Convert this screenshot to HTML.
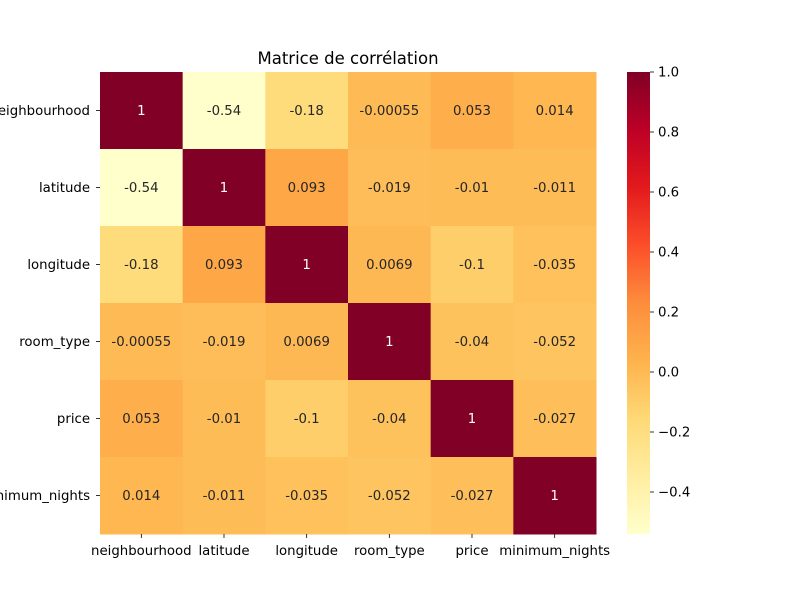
<!DOCTYPE html>
<html><head><meta charset="utf-8"><style>
body{margin:0;background:#fff;}
svg{font-family:"DejaVu Sans","Liberation Sans",sans-serif;}
</style></head><body>
<svg id="chart" width="800" height="600">
<text x="348" y="64" text-anchor="middle" font-size="16.5" fill="#000">Matrice de corrélation</text>
</svg>
<script>
const labels = ["neighbourhood","latitude","longitude","room_type","price","minimum_nights"];
const row0 = [1,-0.54,-0.18,-0.00055,0.053,0.014];
const row1 = [-0.54,1,0.093,-0.019,-0.01,-0.011];
const row2 = [-0.18,0.093,1,0.0069,-0.1,-0.035];
const row3 = [-0.00055,-0.019,0.0069,1,-0.04,-0.052];
const row4 = [0.053,-0.01,-0.1,-0.04,1,-0.027];
const row5 = [0.014,-0.011,-0.035,-0.052,-0.027,1];
const matrix = [row0,row1,row2,row3,row4,row5];
const cbTicks = [1.0,0.8,0.6,0.4,0.2,0.0,-0.2,-0.4];
const vmin = -0.54, vmax = 1.0;

const ns = "http://www.w3.org/2000/svg";
const svg = document.getElementById('chart');
const X0=100, Y0=72, W=496, H=462;
const n = labels.length, cw = W/n, ch = H/n;
const stops = ["#ffffcc","#ffeda0","#fed976","#feb24c","#fd8d3c","#fc4e2a","#e31a1c","#bd0026","#800026"];
function hex(h){return [1,3,5].map(i=>parseInt(h.substr(i,2),16));}
function color(v){
  let t=(v-vmin)/(vmax-vmin); t=Math.max(0,Math.min(1,t));
  const p=t*(stops.length-1), i=Math.min(Math.floor(p),stops.length-2), f=p-i;
  const a=hex(stops[i]), b=hex(stops[i+1]);
  return "rgb("+a.map((c,k)=>Math.round(c+(b[k]-c)*f)).join(",")+")";
}
function fmt(v){
  if(v===1) return "1";
  return String(+v.toPrecision(2));
}
function mk(tag,attrs){const e=document.createElementNS(ns,tag);for(const k in attrs)e.setAttribute(k,attrs[k]);svg.appendChild(e);return e;}
const xs = i => X0 + i*cw;
const ys = j => Y0 + j*ch;
matrix.forEach((row,j)=>row.forEach((v,i)=>{
  const r=mk('rect',{x:xs(i),y:ys(j),width:cw+0.5,height:ch+0.5,fill:color(v)});
  
  
  const t=mk('text',{x:xs(i)+cw/2,y:ys(j)+ch/2+4.5,'text-anchor':'middle','font-size':13.3,fill:(v>0.6?'#fff':'#262626')});
  t.textContent=fmt(v);
  
  
}));
labels.forEach((l,i)=>{
  const tx=mk('text',{x:xs(i)+cw/2,y:555,'text-anchor':'middle','font-size':13.3,fill:'#000'});
  tx.textContent=l;
  
  
  mk('line',{x1:xs(i)+cw/2,x2:xs(i)+cw/2,y1:534,y2:538,stroke:'#000','stroke-width':0.8});
  const ty=mk('text',{x:90,y:ys(i)+ch/2+4.5,'text-anchor':'end','font-size':13.3,fill:'#000'});
  ty.textContent=l;
  
  
  mk('line',{x1:96,x2:100,y1:ys(i)+ch/2,y2:ys(i)+ch/2,stroke:'#000','stroke-width':0.8});
});
const CX=627, CW=23;
const cy = v => Y0 + (vmax-v)/(vmax-vmin)*H;
const defs=mk('defs',{});
const g=document.createElementNS(ns,'linearGradient');
g.setAttribute('id','cbg');g.setAttribute('x1','0');g.setAttribute('y1','1');g.setAttribute('x2','0');g.setAttribute('y2','0');
defs.appendChild(g);
stops.forEach((s,i)=>{const st=document.createElementNS(ns,'stop');st.setAttribute('offset',i/(stops.length-1));st.setAttribute('stop-color',s);g.appendChild(st);});
const cb=mk('rect',{x:CX,y:Y0,width:CW,height:H,fill:'url(#cbg)'});


cbTicks.forEach(v=>{
  mk('line',{x1:CX+CW,x2:CX+CW+4,y1:cy(v),y2:cy(v),stroke:'#000','stroke-width':0.8});
  const t=mk('text',{x:CX+CW+8,y:cy(v)+4.5,'font-size':13.3,fill:'#000'});
  t.textContent=(v<0?'\u2212':'')+Math.abs(v).toFixed(1);
  
  
});
</script>
</body></html>
